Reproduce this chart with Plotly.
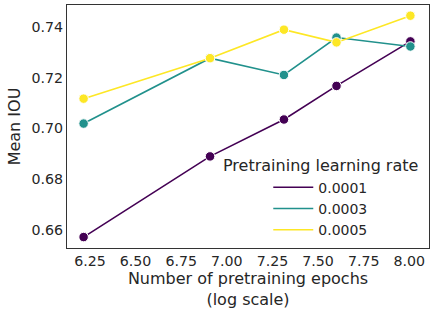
import numpy as np
import plotly.graph_objects as go

log_epochs = [6.215, 6.908, 7.313, 7.601, 8.006]
series_names = ["0.0001", "0.0003", "0.0005"]
iou_0001 = [0.6573, 0.6890, 0.7035, 0.7167, 0.7342]
iou_0003 = [0.7019, 0.7276, 0.7210, 0.7357, 0.7322]
iou_0005 = [0.7117, 0.7276, 0.7388, 0.7338, 0.7443]
colors = ["#440154", "#21918c", "#fde725"]
x_ticks = [6.25, 6.50, 6.75, 7.00, 7.25, 7.50, 7.75, 8.00]
y_ticks = [0.66, 0.68, 0.70, 0.72, 0.74]
legend_title = "Pretraining learning rate"

fig = go.Figure()
for name, vals, c in zip(series_names, [iou_0001, iou_0003, iou_0005], colors):
    fig.add_trace(go.Scatter(
        x=log_epochs, y=vals, name=name, mode="lines+markers",
        line=dict(color=c, width=1.6), showlegend=False,
        marker=dict(size=9.5, color=c, line=dict(color="white", width=1)),
    ))
# legend entries (lines only, like the reference)
for name, c in zip(series_names, colors):
    fig.add_trace(go.Scatter(
        x=[None], y=[None], name=name, mode="lines",
        line=dict(color=c, width=1.6), showlegend=True,
    ))

font = "DejaVu Sans"
txt = "#262626"
fig.update_layout(
    width=433, height=309,
    margin=dict(l=67, r=3, t=5, b=58),
    plot_bgcolor="white", paper_bgcolor="white",
    font=dict(family=font, color=txt, size=14),
    showlegend=True,
    legend=dict(
        x=0.556, xanchor="left", y=0.314, yanchor="top",
        bgcolor="rgba(0,0,0,0)", borderwidth=0,
        font=dict(size=14, family=font, color=txt),
        itemwidth=40, tracegroupgap=0,
    ),
    shapes=[dict(type="rect", xref="paper", yref="paper",
                 x0=0.42, x1=0.995, y0=0.012, y1=0.39,
                 fillcolor="rgba(255,255,255,0.85)", line=dict(width=0),
                 layer="above")],
    annotations=[dict(text=legend_title, xref="paper", yref="paper",
                      x=0.699, y=0.34, xanchor="center", yanchor="middle",
                      showarrow=False,
                      font=dict(size=16, family=font, color=txt))],
)
fig.update_xaxes(
    range=[6.124, 8.108], tickvals=x_ticks,
    ticktext=[f"{v:.2f}" for v in x_ticks],
    showgrid=False, zeroline=False, showline=True, mirror=True,
    linecolor="#333333", linewidth=1.2, ticks="",
    tickfont=dict(size=14.2, family=font, color=txt),
    title=dict(text="Number of pretraining epochs<br>(log scale)",
               font=dict(size=16, family=font, color=txt), standoff=5),
)
fig.update_yaxes(
    range=[0.653, 0.7485], tickvals=y_ticks,
    ticktext=[f"{v:.2f}" for v in y_ticks],
    showgrid=False, zeroline=False, showline=True, mirror=True,
    linecolor="#333333", linewidth=1.2, ticks="",
    tickfont=dict(size=14.2, family=font, color=txt),
    title=dict(text="Mean IOU", font=dict(size=16, family=font, color=txt), standoff=6),
)
fig.write_html("out.html", config={"displayModeBar": False},
               post_script="document.body.style.margin='0';")
